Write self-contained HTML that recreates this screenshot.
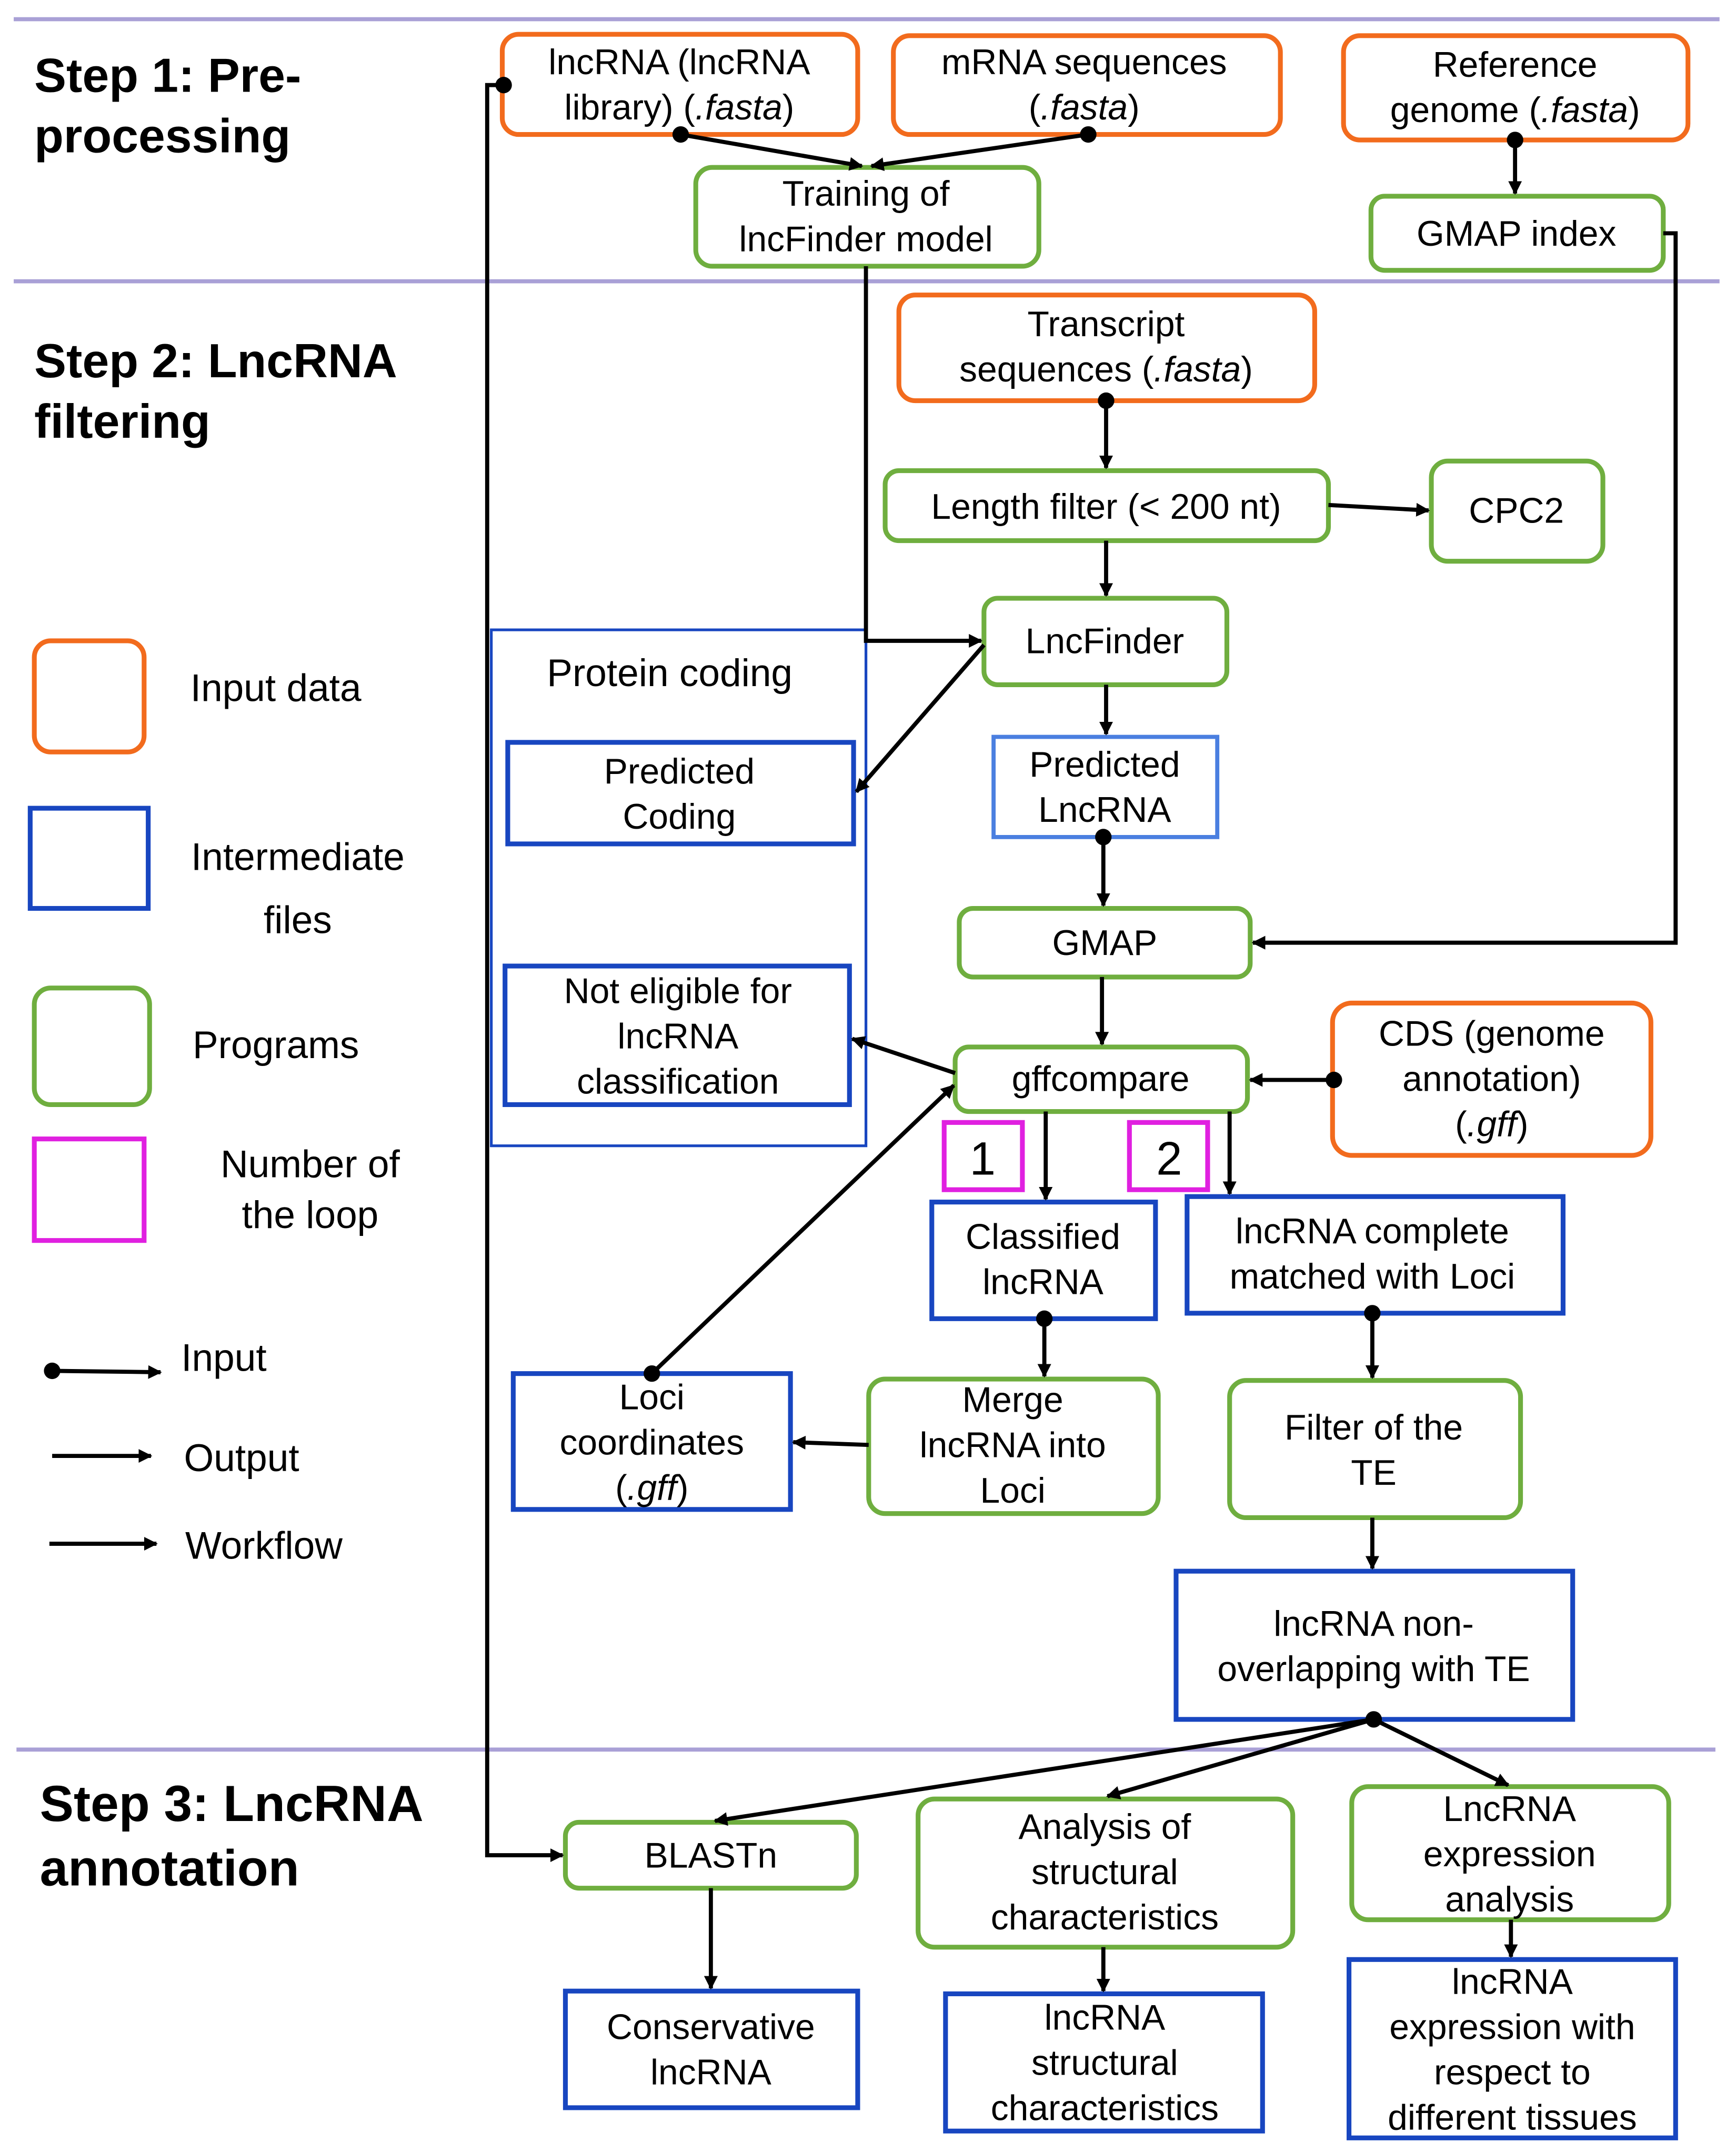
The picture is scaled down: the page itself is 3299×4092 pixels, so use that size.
<!DOCTYPE html>
<html><head><meta charset="utf-8"><style>
html,body{margin:0;padding:0;background:#fff;}
svg{display:block;}
text{font-family:"Liberation Sans",Arial,sans-serif;fill:#000;}
.t{font-size:26px;text-anchor:middle;}
.s{font-weight:bold;font-size:35px;}
.o{fill:none;stroke:#F26B1D;stroke-width:3.5;}
.g{fill:none;stroke:#6FAE3F;stroke-width:3.5;}
.b{fill:none;stroke:#1846C0;stroke-width:3.5;}
.m{fill:none;stroke:#E020E0;stroke-width:3.5;}
.l{stroke:#000;stroke-width:3;fill:none;}
</style></head><body>
<svg width="3299" height="4092" viewBox="0 0 1265 1569" preserveAspectRatio="none" xmlns="http://www.w3.org/2000/svg">
<defs><marker id="a" markerWidth="10" markerHeight="10" refX="9" refY="5" orient="auto" markerUnits="userSpaceOnUse" viewBox="0 0 10 10"><path d="M0,0 L10,5 L0,10 z" fill="#000"/></marker></defs>
<g stroke="#A9A0D6" stroke-width="3">
<line x1="10" y1="14" x2="1253" y2="14"/><line x1="10" y1="205" x2="1253" y2="205"/><line x1="12" y1="1275" x2="1250" y2="1275"/></g>
<text class="s" x="25" y="67">Step 1: Pre-</text><text class="s" x="25" y="111">processing</text>
<text class="s" x="25" y="275">Step 2: LncRNA</text><text class="s" x="25" y="319">filtering</text>
<text class="s" x="29" y="1327" style="font-size:37px">Step 3: LncRNA</text><text class="s" x="29" y="1374" style="font-size:37px">annotation</text>
<!-- legend -->
<rect class="o" x="25" y="467" width="80" height="81" rx="12"/><text class="t" x="201" y="511" style="font-size:28px">Input data</text>
<rect class="b" x="22" y="589" width="86" height="73"/><text class="t" x="217" y="634" style="font-size:28px">Intermediate</text><text class="t" x="217" y="680" style="font-size:28px">files</text>
<rect class="g" x="25" y="720" width="84" height="85" rx="12"/><text class="t" x="201" y="771" style="font-size:28px">Programs</text>
<rect class="m" x="25" y="830" width="80" height="74"/><text class="t" x="226" y="858" style="font-size:28px">Number of</text><text class="t" x="226" y="895" style="font-size:28px">the loop</text>
<circle cx="38" cy="999" r="6"/><line class="l" x1="38" y1="999" x2="117" y2="1000" marker-end="url(#a)"/><text x="132" y="999" style="font-size:28px">Input</text>
<line class="l" x1="38" y1="1061" x2="110" y2="1061" marker-end="url(#a)"/><text x="134" y="1072" style="font-size:28px">Output</text>
<line class="l" x1="36" y1="1125" x2="114" y2="1125" marker-end="url(#a)"/><text x="135" y="1136" style="font-size:28px">Workflow</text>
<!-- boxes -->
<rect class="o" x="366" y="25" width="259" height="73" rx="12"/><text class="t" x="495" y="54">lncRNA  (lncRNA</text><text class="t" x="495" y="87">library) (<tspan font-style="italic">.fasta</tspan>)</text>
<rect class="o" x="651" y="26" width="282" height="72" rx="12"/><text class="t" x="790" y="54">mRNA  sequences</text><text class="t" x="790" y="87">(<tspan font-style="italic">.fasta</tspan>)</text>
<rect class="o" x="979" y="26" width="251" height="76" rx="12"/><text class="t" x="1104" y="56">Reference</text><text class="t" x="1104" y="89">genome (<tspan font-style="italic">.fasta</tspan>)</text>
<rect class="g" x="507" y="122" width="250" height="72" rx="12"/><text class="t" x="631" y="150">Training of</text><text class="t" x="631" y="183">lncFinder model</text>
<rect class="g" x="999" y="143" width="213" height="54" rx="10"/><text class="t" x="1105" y="179">GMAP index</text>
<rect class="o" x="655" y="215" width="303" height="77" rx="12"/><text class="t" x="806" y="245">Transcript</text><text class="t" x="806" y="278">sequences (<tspan font-style="italic">.fasta</tspan>)</text>
<rect class="g" x="645" y="343" width="323" height="51" rx="10"/><text class="t" x="806" y="378">Length filter (&lt; 200 nt)</text>
<rect class="g" x="1043" y="336" width="125" height="73" rx="12"/><text class="t" x="1105" y="381">CPC2</text>
<rect class="g" x="717" y="436" width="177" height="63" rx="10"/><text class="t" x="805" y="476">LncFinder</text>
<rect x="358" y="459" width="273" height="376" fill="none" stroke="#1846C0" stroke-width="2"/><text class="t" x="488" y="500" style="font-size:28px">Protein coding</text>
<rect class="b" x="370" y="541" width="252" height="74"/><text class="t" x="495" y="571">Predicted</text><text class="t" x="495" y="604">Coding</text>
<rect x="724" y="537" width="163" height="73" fill="none" stroke="#4A7FE0" stroke-width="3"/><text class="t" x="805" y="566">Predicted</text><text class="t" x="805" y="599">LncRNA</text>
<rect class="g" x="699" y="662" width="212" height="50" rx="10"/><text class="t" x="805" y="696">GMAP</text>
<rect class="b" x="368" y="704" width="251" height="101"/><text class="t" x="494" y="731">Not eligible for</text><text class="t" x="494" y="764">lncRNA</text><text class="t" x="494" y="797">classification</text>
<rect class="g" x="696" y="763" width="213" height="47" rx="10"/><text class="t" x="802" y="795">gffcompare</text>
<rect class="o" x="971" y="731" width="232" height="111" rx="14"/><text class="t" x="1087" y="762">CDS (genome</text><text class="t" x="1087" y="795">annotation)</text><text class="t" x="1087" y="828">(<tspan font-style="italic">.gff</tspan>)</text>
<rect class="m" x="688" y="818" width="57" height="49"/><text class="t" x="716" y="856" style="font-size:34px">1</text>
<rect class="m" x="823" y="818" width="57" height="49"/><text class="t" x="852" y="856" style="font-size:34px">2</text>
<rect class="b" x="679" y="876" width="163" height="85"/><text class="t" x="760" y="910">Classified</text><text class="t" x="760" y="943">lncRNA</text>
<rect class="b" x="865" y="872" width="274" height="85"/><text class="t" x="1000" y="906">lncRNA  complete</text><text class="t" x="1000" y="939">matched with Loci</text>
<rect class="b" x="374" y="1001" width="202" height="99"/><text class="t" x="475" y="1027">Loci</text><text class="t" x="475" y="1060">coordinates</text><text class="t" x="475" y="1093">(<tspan font-style="italic">.gff</tspan>)</text>
<rect class="g" x="633" y="1005" width="211" height="98" rx="12"/><text class="t" x="738" y="1029">Merge</text><text class="t" x="738" y="1062">lncRNA  into</text><text class="t" x="738" y="1095">Loci</text>
<rect class="g" x="896" y="1006" width="212" height="100" rx="12"/><text class="t" x="1001" y="1049">Filter of the</text><text class="t" x="1001" y="1082">TE</text>
<rect class="b" x="857" y="1145" width="289" height="108"/><text class="t" x="1001" y="1192">lncRNA  non-</text><text class="t" x="1001" y="1225">overlapping with TE</text>
<rect class="g" x="412" y="1328" width="212" height="48" rx="10"/><text class="t" x="518" y="1361">BLASTn</text>
<rect class="g" x="669" y="1311" width="273" height="108" rx="12"/><text class="t" x="805" y="1340">Analysis of</text><text class="t" x="805" y="1373">structural</text><text class="t" x="805" y="1406">characteristics</text>
<rect class="g" x="985" y="1302" width="231" height="97" rx="12"/><text class="t" x="1100" y="1327">LncRNA</text><text class="t" x="1100" y="1360">expression</text><text class="t" x="1100" y="1393">analysis</text>
<rect class="b" x="412" y="1451" width="213" height="85"/><text class="t" x="518" y="1486">Conservative</text><text class="t" x="518" y="1519">lncRNA</text>
<rect class="b" x="689" y="1453" width="231" height="100"/><text class="t" x="805" y="1479">lncRNA</text><text class="t" x="805" y="1512">structural</text><text class="t" x="805" y="1545">characteristics</text>
<rect class="b" x="983" y="1428" width="238" height="130"/><text class="t" x="1102" y="1453">lncRNA</text><text class="t" x="1102" y="1486">expression with</text><text class="t" x="1102" y="1519">respect to</text><text class="t" x="1102" y="1552">different tissues</text>
<!-- connectors -->
<g fill="#000">
<circle cx="367" cy="62" r="6"/><circle cx="496" cy="98" r="6"/><circle cx="793" cy="98" r="6"/><circle cx="1104" cy="102" r="6"/><circle cx="806" cy="292" r="6"/><circle cx="804" cy="610" r="6"/><circle cx="972" cy="787" r="6"/><circle cx="761" cy="961" r="6"/><circle cx="475" cy="1001" r="6"/><circle cx="1000" cy="957" r="6"/><circle cx="1001" cy="1253" r="6"/></g>
<polyline class="l" points="367,62 355,62 355,1352 410,1352" marker-end="url(#a)"/>
<line class="l" x1="496" y1="98" x2="628" y2="121" marker-end="url(#a)"/>
<line class="l" x1="793" y1="98" x2="635" y2="121" marker-end="url(#a)"/>
<polyline class="l" points="631,194 631,467 715,467" marker-end="url(#a)"/>
<line class="l" x1="1104" y1="102" x2="1104" y2="141" marker-end="url(#a)"/>
<polyline class="l" points="1212,170 1221,170 1221,687 913,687" marker-end="url(#a)"/>
<line class="l" x1="806" y1="292" x2="806" y2="341" marker-end="url(#a)"/>
<line class="l" x1="968" y1="368" x2="1041" y2="372" marker-end="url(#a)"/>
<line class="l" x1="806" y1="394" x2="806" y2="434" marker-end="url(#a)"/>
<line class="l" x1="806" y1="499" x2="806" y2="535" marker-end="url(#a)"/>
<line class="l" x1="717" y1="470" x2="624" y2="577" marker-end="url(#a)"/>
<line class="l" x1="804" y1="610" x2="804" y2="660" marker-end="url(#a)"/>
<line class="l" x1="803" y1="712" x2="803" y2="761" marker-end="url(#a)"/>
<line class="l" x1="696" y1="782" x2="621" y2="757" marker-end="url(#a)"/>
<line class="l" x1="972" y1="787" x2="911" y2="787" marker-end="url(#a)"/>
<line class="l" x1="762" y1="810" x2="762" y2="874" marker-end="url(#a)"/>
<line class="l" x1="896" y1="810" x2="896" y2="870" marker-end="url(#a)"/>
<line class="l" x1="761" y1="961" x2="761" y2="1003" marker-end="url(#a)"/>
<line class="l" x1="633" y1="1053" x2="578" y2="1051" marker-end="url(#a)"/>
<line class="l" x1="475" y1="1001" x2="695" y2="791" marker-end="url(#a)"/>
<line class="l" x1="1000" y1="957" x2="1000" y2="1004" marker-end="url(#a)"/>
<line class="l" x1="1000" y1="1106" x2="1000" y2="1143" marker-end="url(#a)"/>
<line class="l" x1="1001" y1="1253" x2="521" y2="1327" marker-end="url(#a)"/>
<line class="l" x1="1001" y1="1253" x2="807" y2="1309" marker-end="url(#a)"/>
<line class="l" x1="1001" y1="1253" x2="1099" y2="1301" marker-end="url(#a)"/>
<line class="l" x1="518" y1="1376" x2="518" y2="1449" marker-end="url(#a)"/>
<line class="l" x1="804" y1="1419" x2="804" y2="1451" marker-end="url(#a)"/>
<line class="l" x1="1101" y1="1399" x2="1101" y2="1426" marker-end="url(#a)"/>
</svg>
</body></html>
